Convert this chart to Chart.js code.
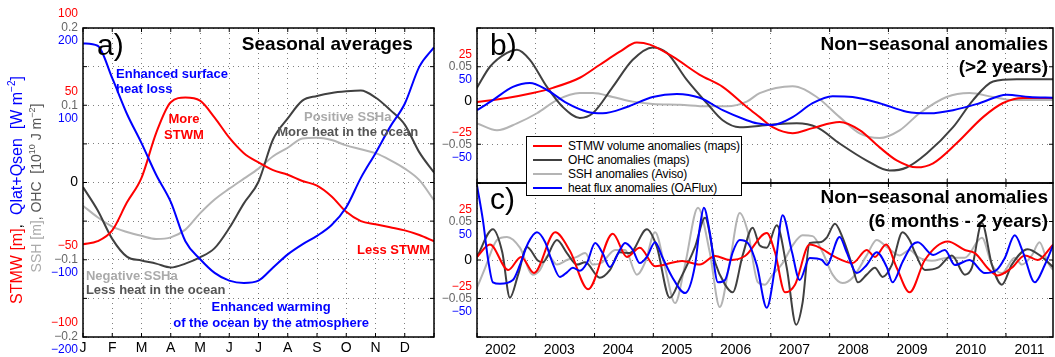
<!DOCTYPE html>
<html>
<head>
<meta charset="utf-8">
<script src="https://cdn.jsdelivr.net/npm/chart.js@4.4.1/dist/chart.umd.min.js"></script>
<style>
  html, body { margin: 0; padding: 0; background: #fff; }
  #wadah { position: relative; width: 1055px; height: 357px; overflow: hidden; }
  canvas { position: absolute; }
  #legenda {
    position: absolute; left: 526px; top: 136px; width: 216px; height: 60px;
    box-sizing: border-box; border: 1px solid #000; background: #fff; z-index: 5;
    padding-top: 2px; font: 12px "Liberation Sans", Arial, sans-serif; letter-spacing: -0.2px; color: #000;
  }
  #legenda .item { height: 14px; display: flex; align-items: center; white-space: nowrap; }
  #legenda .sampel { display: inline-block; flex: 0 0 29px; width: 29px; height: 2px; margin: 0 6px 0 6px; }
</style>
</head>
<body>
<div id="wadah">
  <canvas id="grafikA" width="440" height="357" style="left:0;top:0"></canvas>
  <canvas id="grafikB" width="615" height="186" style="left:440px;top:0"></canvas>
  <canvas id="grafikC" width="615" height="177" style="left:440px;top:180px"></canvas>
  <div id="legenda"></div>
</div>
<script>
// ---- data ----
const bulan = ['J', 'F', 'M', 'A', 'M', 'J', 'J', 'A', 'S', 'O', 'N', 'D'];
const tahun = [2002, 2003, 2004, 2005, 2006, 2007, 2008, 2009, 2010, 2011];
const namaSeri = ['STMW volume anomalies (maps)', 'OHC anomalies (maps)', 'SSH anomalies (Aviso)', 'heat flux anomalies (OAFlux)'];

// panel a: seasonal cycle, months since 1 Jan
const waktuA = [0, 0.5, 1, 1.5, 2, 2.5, 3, 3.5, 4, 4.5, 5, 5.5, 6, 6.5, 7, 7.5, 8, 8.5, 9, 9.5, 10, 10.5, 11, 11.5, 12];
const stmwA = [-40, -38, -31, -13, 3, 32, 52, 55, 53, 42, 29, 19, 13, 8, 5, 1, -2, -9, -19, -25, -27, -29, -31, -34, -38];
const ohcA = [-0.006, -0.036, -0.073, -0.096, -0.101, -0.105, -0.110, -0.105, -0.097, -0.085, -0.059, -0.027, 0.001, 0.056, 0.083, 0.106, 0.112, 0.116, 0.118, 0.119, 0.110, 0.094, 0.075, 0.039, 0.013];
const sshA = [-0.030, -0.045, -0.057, -0.064, -0.069, -0.073, -0.071, -0.061, -0.040, -0.022, -0.008, 0.005, 0.018, 0.034, 0.045, 0.057, 0.058, 0.055, 0.048, 0.043, 0.038, 0.029, 0.018, 0.003, -0.023];
const fluxA = [180, 177, 135, 89, 51, 10, -25, -76, -99, -117, -127, -130, -127, -110, -93, -80, -69, -55, -32, 6, 38, 72, 102, 150, 175];

// panel b: >2 years, [year, value]
const stmwB = [[2002.00, 2.3], [2002.51, 4.9], [2002.95, 8.1], [2003.29, 11.4], [2003.75, 17.9], [2004.09, 26.3], [2004.43, 34.7], [2004.72, 40.6], [2004.94, 39.3], [2005.33, 31.5], [2005.79, 19.8], [2006.18, 12.0], [2006.59, -1.0], [2006.81, -7.5], [2007.03, -14], [2007.37, -17.9], [2007.71, -14.6], [2008.17, -10.7], [2008.51, -15.9], [2008.85, -27], [2009.14, -35.4], [2009.48, -39.9], [2009.76, -37.3], [2010.16, -24.4], [2010.61, -7.5], [2010.95, 1.6], [2011.29, 4.9], [2011.80, 4.9]];
const ohcB = [[2002.00, 0.023], [2002.22, 0.050], [2002.51, 0.068], [2002.68, 0.072], [2002.90, 0.059], [2003.19, 0.024], [2003.46, -0.002], [2003.75, -0.016], [2003.97, -0.010], [2004.31, 0.024], [2004.65, 0.059], [2004.99, 0.075], [2005.23, 0.068], [2005.57, 0.033], [2005.91, 0.003], [2006.18, -0.019], [2006.47, -0.028], [2006.98, -0.025], [2007.44, -0.023], [2007.78, -0.028], [2008.17, -0.049], [2008.63, -0.071], [2009.02, -0.084], [2009.31, -0.080], [2009.65, -0.062], [2010.10, -0.028], [2010.44, 0.007], [2010.78, 0.031], [2011.18, 0.034], [2011.80, 0.034]];
const sshB = [[2002.00, -0.023], [2002.34, -0.032], [2002.68, -0.023], [2003.02, -0.010], [2003.36, 0.007], [2003.75, 0.016], [2003.97, 0.016], [2004.31, 0.011], [2004.65, 0.005], [2004.99, 0.002], [2005.45, 0.001], [2005.91, -0.001], [2006.25, -0.001], [2006.59, 0.005], [2006.81, 0.016], [2007.37, 0.025], [2007.78, 0.011], [2008.17, -0.015], [2008.51, -0.036], [2008.85, -0.042], [2009.19, -0.032], [2009.53, -0.010], [2009.99, 0.011], [2010.38, 0.016], [2010.78, 0.011], [2011.12, 0.007], [2011.80, 0.007]];
const fluxB = [[2002.00, -6], [2002.27, 7], [2002.61, 24], [2002.90, 29], [2003.19, 20], [2003.53, 3], [2003.87, -8], [2004.14, -10], [2004.55, -2], [2004.99, 11], [2005.40, 15], [2005.79, 10], [2006.18, -6], [2006.59, -19], [2006.76, -23], [2007.03, -25], [2007.37, -15], [2007.71, 3], [2008.05, 12], [2008.39, 11], [2008.85, 3], [2009.31, -8], [2009.70, -10], [2010.10, -6], [2010.55, 3], [2011.01, 14], [2011.40, 11], [2011.80, 10]];

// panel c: 6 months - 2 years, [year, value]
const stmwC = [[2002.00, 2], [2002.22, 10], [2002.53, -6.5], [2002.75, 2], [2002.97, -8.4], [2003.33, 18], [2003.58, 6], [2003.89, -19], [2004.31, 17], [2004.55, 2], [2004.77, 8], [2005.03, -4], [2005.49, -0.6], [2005.79, -3], [2006.05, 2.6], [2006.30, 0], [2006.56, 2.6], [2006.93, 17.5], [2007.07, 5], [2007.24, -21], [2007.41, -16], [2007.66, 10], [2007.83, 8], [2008.09, 2], [2008.39, -2], [2008.63, 6.5], [2008.77, 2], [2008.96, 10], [2009.14, -5], [2009.36, -21], [2009.62, 0], [2010.01, 12], [2010.30, 6.5], [2010.47, 4.5], [2010.72, -6.5], [2010.86, -10], [2011.10, -5], [2011.32, 3], [2011.54, 0], [2011.80, 10]];
const ohcC = [[2002.00, 0.004], [2002.27, 0.040], [2002.43, 0.010], [2002.56, -0.049], [2002.70, -0.019], [2002.85, 0.017], [2003.04, -0.001], [2003.12, -0.003], [2003.36, 0.026], [2003.53, 0.009], [2003.70, -0.006], [2003.84, -0.003], [2004.09, -0.023], [2004.26, -0.013], [2004.43, 0.010], [2004.60, 0.009], [2004.89, 0.040], [2005.06, 0.017], [2005.28, -0.049], [2005.45, -0.026], [2005.71, 0.017], [2005.88, 0.055], [2006.05, -0.003], [2006.22, -0.032], [2006.35, -0.042], [2006.52, 0.006], [2006.69, 0.042], [2006.81, 0.019], [2006.93, 0.016], [2007.10, 0.045], [2007.27, -0.010], [2007.43, -0.084], [2007.54, -0.055], [2007.66, 0.022], [2007.83, 0.023], [2007.95, 0.029], [2008.09, 0.047], [2008.22, 0.029], [2008.38, -0.006], [2008.48, -0.029], [2008.63, -0.019], [2008.77, -0.010], [2008.90, -0.022], [2009.06, -0.006], [2009.24, 0.036], [2009.36, 0.026], [2009.45, 0.010], [2009.62, -0.013], [2009.84, -0.010], [2010.08, 0.006], [2010.30, -0.019], [2010.42, -0.010], [2010.59, 0.048], [2010.76, -0.006], [2010.93, -0.032], [2011.10, -0.006], [2011.37, 0.014], [2011.61, 0.004], [2011.80, -0.009]];
const sshC = [[2002.00, -0.036], [2002.14, -0.010], [2002.34, 0.026], [2002.51, 0.030], [2002.73, 0.016], [2002.95, -0.019], [2003.07, -0.013], [2003.21, 0.006], [2003.36, -0.006], [2003.53, 0], [2003.70, 0.004], [2003.84, 0.009], [2003.97, -0.006], [2004.13, -0.003], [2004.35, 0.013], [2004.52, 0.013], [2004.72, -0.019], [2004.86, -0.003], [2005.03, 0.036], [2005.20, -0.010], [2005.37, -0.056], [2005.54, -0.006], [2005.76, 0.068], [2005.96, 0.010], [2006.13, -0.061], [2006.30, -0.003], [2006.47, 0.061], [2006.61, 0.036], [2006.78, -0.029], [2006.90, -0.032], [2007.03, -0.019], [2007.20, -0.004], [2007.37, 0.019], [2007.54, 0.032], [2007.71, 0.031], [2007.88, 0.010], [2008.05, -0.019], [2008.22, -0.030], [2008.39, -0.023], [2008.63, 0.006], [2008.80, 0.026], [2008.97, 0.017], [2009.19, 0.006], [2009.36, 0.013], [2009.50, 0.004], [2009.74, -0.001], [2010.01, 0.003], [2010.30, 0.003], [2010.59, 0.029], [2010.76, -0.006], [2010.93, -0.017], [2011.15, 0.003], [2011.27, -0.006], [2011.44, 0.006], [2011.57, 0.023], [2011.71, -0.003], [2011.80, -0.013]];
const fluxC = [[2002.00, 97], [2002.10, 52], [2002.19, 0], [2002.27, -29], [2002.39, -31], [2002.61, -26], [2002.73, -6.5], [2002.87, 22], [2003.02, 36], [2003.16, 23], [2003.28, -2.6], [2003.41, -22], [2003.53, -16], [2003.63, -10], [2003.75, -14], [2003.87, -4], [2004.01, 22], [2004.13, 10], [2004.26, -9], [2004.43, 13], [2004.52, 22], [2004.65, 13], [2004.77, -4], [2004.89, 4], [2005.03, 23], [2005.16, 2.6], [2005.32, -22], [2005.54, -43], [2005.71, -6.5], [2005.79, 42], [2005.86, 68], [2005.96, 36], [2006.10, -29], [2006.22, -26], [2006.35, 10], [2006.47, 26], [2006.61, 22], [2006.76, -6.5], [2006.93, -62], [2007.07, -10], [2007.20, 58], [2007.36, 10], [2007.49, -26], [2007.66, 2.6], [2007.87, 0], [2007.95, -6.5], [2008.17, 30], [2008.29, 10], [2008.46, -17], [2008.63, -6.5], [2008.80, 10], [2008.97, -9], [2009.07, -29], [2009.24, -2.6], [2009.40, 19], [2009.50, 23], [2009.76, 6.5], [2009.96, 13], [2010.13, -6.5], [2010.38, 0], [2010.64, -17], [2010.84, -13], [2010.98, 2.6], [2011.15, 32], [2011.29, 10], [2011.49, -29], [2011.66, -6.5], [2011.80, 19]];

// tick labels
const tickSshA = [0.2, 0.1, 0, -0.1, -0.2];
const tickStmwA = [100, 50, -50, -100];
const tickFluxA = [200, 100, -100, -200];
const tickSshBC = [0.05, 0, -0.05];
const tickStmwBC = [25, -25];
const tickFluxBC = [50, -50];

// ---- style ----
const MERAH = '#ff0000', BIRU = '#0000ff', ABU_TUA = '#404040', ABU_MUDA = '#b4b4b4', ABU_LABEL = '#666666';
const FONT = '"Liberation Sans", Arial, Helvetica, sans-serif';

function garis(label, data, warna, sumbu, urut) {
    return {
        label: label, data: data, borderColor: warna, borderWidth: 2, pointRadius: 0,
        fill: false, cubicInterpolationMode: 'monotone', yAxisID: sumbu, order: urut
    };
}
function pasangan(arr) {
    return arr.map(p => ({ x: p[0], y: p[1] }));
}
function angka(v) {
    const s = String(Math.abs(v));
    return (v < 0 ? '\u2212' : '') + s;
}
function tulis(ctx, s, x, y, font, warna, align) {
    ctx.font = font;
    ctx.fillStyle = warna;
    ctx.textAlign = align || 'left';
    ctx.textBaseline = 'middle';
    ctx.fillText(s, x, y);
}
function tulisVertikal(ctx, segmen, cx, cy, ukuran) {
    let total = 0;
    segmen.forEach(s => {
        ctx.font = (s.sup ? Math.round(ukuran * 0.62) : ukuran) + 'px ' + FONT;
        s.w = ctx.measureText(s.t).width;
        total += s.w;
    });
    ctx.save();
    ctx.translate(cx, cy);
    ctx.rotate(-Math.PI / 2);
    let x = -total / 2;
    segmen.forEach(s => {
        ctx.font = (s.sup ? Math.round(ukuran * 0.62) : ukuran) + 'px ' + FONT;
        ctx.fillStyle = s.c;
        ctx.textAlign = 'left';
        ctx.textBaseline = 'middle';
        ctx.fillText(s.t, x, s.sup ? -ukuran * 0.33 : 0);
        x += s.w;
    });
    ctx.restore();
}
function bingkai(chart) {
    const { ctx, chartArea: ca, scales } = chart;
    ctx.save();
    ctx.strokeStyle = '#000';
    ctx.lineWidth = 1;
    scales.x.ticks.forEach(t => {
        const px = scales.x.getPixelForValue(t.value);
        ctx.beginPath();
        ctx.moveTo(px, ca.bottom); ctx.lineTo(px, ca.bottom - 4);
        ctx.moveTo(px, ca.top); ctx.lineTo(px, ca.top + 4);
        ctx.stroke();
    });
    scales.y.ticks.forEach(t => {
        const py = scales.y.getPixelForValue(t.value);
        ctx.beginPath();
        ctx.moveTo(ca.left, py); ctx.lineTo(ca.left + 4, py);
        ctx.moveTo(ca.right, py); ctx.lineTo(ca.right - 4, py);
        ctx.stroke();
    });
    ctx.lineWidth = 1.5;
    ctx.strokeRect(ca.left, ca.top, ca.right - ca.left, ca.bottom - ca.top);
    ctx.restore();
}

const gridGaya = { color: 'rgba(0,0,0,0.5)', lineWidth: 1, drawTicks: false };
const borderGaya = { display: false, dash: [1, 4] };

// annotations of panel a (month, SSH units)
const catatanA = [
    { t: 'Enhanced surface', x: 1.13, y: 0.140, c: BIRU, a: 'left' },
    { t: 'heat loss', x: 1.13, y: 0.121, c: BIRU, a: 'left' },
    { t: 'More', x: 3.45, y: 0.082, c: MERAH, a: 'center' },
    { t: 'STWM', x: 3.45, y: 0.061, c: MERAH, a: 'center' },
    { t: 'Positive SSHa', x: 9.05, y: 0.084, c: '#aaaaaa', a: 'center' },
    { t: 'More heat in the ocean', x: 9.05, y: 0.065, c: '#555555', a: 'center' },
    { t: 'Negative SSHa', x: 0.10, y: -0.122, c: '#aaaaaa', a: 'left' },
    { t: 'Less heat in the ocean', x: 0.10, y: -0.140, c: '#555555', a: 'left' },
    { t: 'Enhanced warming', x: 6.43, y: -0.162, c: BIRU, a: 'center' },
    { t: 'of the ocean by the atmosphere', x: 6.43, y: -0.182, c: BIRU, a: 'center' },
    { t: 'Less STWM', x: 9.37, y: -0.088, c: MERAH, a: 'left' }
];

const labelA = {
    id: 'labelA',
    afterDraw(chart) {
        const { ctx, chartArea: ca, scales } = chart;
        const x = scales.x, y = scales.y, yS = scales.yS, yF = scales.yF;
        bingkai(chart);
        ctx.save();
        bulan.forEach((b, i) => tulis(ctx, b, x.getPixelForValue(i), ca.bottom + 11, '14px ' + FONT, '#000', 'center'));
        tickSshA.forEach(v => tulis(ctx, v === 0 ? '0' : angka(v), ca.left - 5, y.getPixelForValue(v),
            (v === 0 ? '14px ' : '12px ') + FONT, v === 0 ? '#000' : ABU_LABEL, 'right'));
        tickStmwA.forEach(v => tulis(ctx, angka(v), ca.left - 5, yS.getPixelForValue(v) - 14, '12px ' + FONT, MERAH, 'right'));
        tickFluxA.forEach(v => tulis(ctx, angka(v), ca.left - 5, yF.getPixelForValue(v) + 13, '12px ' + FONT, BIRU, 'right'));
        catatanA.forEach(n => tulis(ctx, n.t, x.getPixelForValue(n.x), y.getPixelForValue(n.y), 'bold 13px ' + FONT, n.c, n.a));
        tulis(ctx, 'a)', x.getPixelForValue(0.48), y.getPixelForValue(0.176), '30px ' + FONT, '#000', 'left');
        tulis(ctx, 'Seasonal averages', x.getPixelForValue(11.28), y.getPixelForValue(0.178), 'bold 19px ' + FONT, '#000', 'right');
        tulisVertikal(ctx, [
            { t: 'STMW [m]', c: MERAH }, { t: ',  ', c: '#000' },
            { t: 'Qlat+Qsen  [W m', c: BIRU }, { t: '\u22122', c: BIRU, sup: true }, { t: ']', c: BIRU }
        ], 18, 190, 16);
        tulisVertikal(ctx, [
            { t: 'SSH [m]', c: '#aaaaaa' }, { t: ', OHC  [10', c: '#555555' }, { t: '10', c: '#555555', sup: true },
            { t: ' J m', c: '#555555' }, { t: '\u22122', c: '#555555', sup: true }, { t: ']', c: '#555555' }
        ], 37, 188, 14);
        ctx.restore();
    }
};

function labelBC(id, judul2, geserNol, tampilTahun, huruf) {
    return {
        id: id,
        afterDraw(chart) {
            const { ctx, chartArea: ca, scales } = chart;
            const x = scales.x, y = scales.y, yS = scales.yS, yF = scales.yF;
            bingkai(chart);
            ctx.save();
            tickSshBC.forEach(v => tulis(ctx, v === 0 ? '0' : angka(v), ca.left - 5, y.getPixelForValue(v) + (v === 0 ? geserNol : 0),
                (v === 0 ? '14px ' : '12px ') + FONT, v === 0 ? '#000' : ABU_LABEL, 'right'));
            tickStmwBC.forEach(v => tulis(ctx, angka(v), ca.left - 5, yS.getPixelForValue(v) - 12, '12px ' + FONT, MERAH, 'right'));
            tickFluxBC.forEach(v => tulis(ctx, angka(v), ca.left - 5, yF.getPixelForValue(v) + 13, '12px ' + FONT, BIRU, 'right'));
            if (tampilTahun) {
                tahun.forEach(t => tulis(ctx, String(t), x.getPixelForValue(t + 0.4), ca.bottom + 13, '14px ' + FONT, '#000', 'center'));
            }
            tulis(ctx, huruf, ca.left + 13, ca.top + (tampilTahun ? 18 : 19), '30px ' + FONT, '#000', 'left');
            tulis(ctx, 'Non\u2212seasonal anomalies', ca.right - 5, ca.top + (tampilTahun ? 15 : 17), 'bold 19px ' + FONT, '#000', 'right');
            tulis(ctx, judul2, ca.right - 5, ca.top + (tampilTahun ? 39 : 40), 'bold 19px ' + FONT, '#000', 'right');
            ctx.restore();
        }
    };
}

const opsiDasar = {
    responsive: false,
    animation: false,
    events: [],
    plugins: { legend: { display: false }, tooltip: { enabled: false } }
};

const ctxA = document.getElementById('grafikA').getContext('2d');
const grafikA = new Chart(ctxA, {
    type: 'line',
    data: {
        labels: waktuA,
        datasets: [
            garis(namaSeri[3], waktuA.map((t, i) => ({ x: t, y: fluxA[i] })), BIRU, 'yF', 1),
            garis(namaSeri[0], waktuA.map((t, i) => ({ x: t, y: stmwA[i] })), MERAH, 'yS', 2),
            garis(namaSeri[1], waktuA.map((t, i) => ({ x: t, y: ohcA[i] })), ABU_TUA, 'y', 3),
            garis(namaSeri[2], waktuA.map((t, i) => ({ x: t, y: sshA[i] })), ABU_MUDA, 'y', 4)
        ]
    },
    options: Object.assign({}, opsiDasar, {
        layout: { padding: { left: 83, right: 6, top: 28, bottom: 20 } },
        scales: {
            x: { type: 'linear', min: 0, max: 12, ticks: { display: false, stepSize: 1 }, grid: gridGaya, border: borderGaya },
            y: { min: -0.2, max: 0.2, ticks: { display: false, stepSize: 0.05 }, grid: gridGaya, border: borderGaya },
            yS: { display: false, min: -100, max: 100 },
            yF: { display: false, min: -200, max: 200 }
        }
    }),
    plugins: [labelA]
});

function skalaBC() {
    return {
        x: {
            type: 'linear', min: 2002, max: 2011.8,
            afterBuildTicks: s => { s.ticks = tahun.map(t => ({ value: t })); },
            ticks: { display: false }, grid: gridGaya, border: borderGaya
        },
        y: { min: -0.1, max: 0.1, ticks: { display: false, stepSize: 0.05 }, grid: gridGaya, border: borderGaya },
        yS: { display: false, min: -50, max: 50 },
        yF: { display: false, min: -100, max: 100 }
    };
}

const ctxB = document.getElementById('grafikB').getContext('2d');
const grafikB = new Chart(ctxB, {
    type: 'line',
    data: {
        datasets: [
            garis(namaSeri[3], pasangan(fluxB), BIRU, 'yF', 1),
            garis(namaSeri[0], pasangan(stmwB), MERAH, 'yS', 2),
            garis(namaSeri[1], pasangan(ohcB), ABU_TUA, 'y', 3),
            garis(namaSeri[2], pasangan(sshB), ABU_MUDA, 'y', 4)
        ]
    },
    options: Object.assign({}, opsiDasar, {
        layout: { padding: { left: 37, right: 2, top: 28, bottom: 3 } },
        scales: skalaBC()
    }),
    plugins: [labelBC('labelB', '(>2 years)', -4, false, 'b)')]
});

const ctxC = document.getElementById('grafikC').getContext('2d');
const grafikC = new Chart(ctxC, {
    type: 'line',
    data: {
        datasets: [
            garis(namaSeri[3], pasangan(fluxC), BIRU, 'yF', 1),
            garis(namaSeri[0], pasangan(stmwC), MERAH, 'yS', 2),
            garis(namaSeri[1], pasangan(ohcC), ABU_TUA, 'y', 3),
            garis(namaSeri[2], pasangan(sshC), ABU_MUDA, 'y', 4)
        ]
    },
    options: Object.assign({}, opsiDasar, {
        layout: { padding: { left: 37, right: 2, top: 3, bottom: 20 } },
        scales: skalaBC()
    }),
    plugins: [labelBC('labelC', '(6 months - 2 years)', 0, true, 'c)')]
});

// legend built from series names
const warnaSeri = [MERAH, ABU_TUA, ABU_MUDA, BIRU];
const legenda = document.getElementById('legenda');
namaSeri.forEach((n, i) => {
    const item = document.createElement('div');
    item.className = 'item';
    const sampel = document.createElement('span');
    sampel.className = 'sampel';
    sampel.style.background = warnaSeri[i];
    item.appendChild(sampel);
    item.appendChild(document.createTextNode(n));
    legenda.appendChild(item);
});
</script>
</body>
</html>
